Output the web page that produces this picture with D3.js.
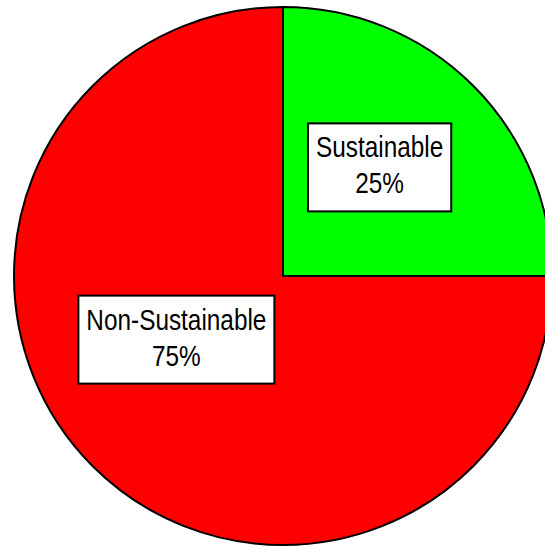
<!DOCTYPE html>
<html><head><meta charset="utf-8">
<script src="https://cdn.jsdelivr.net/npm/d3@7"></script>
<style>html,body{margin:0;padding:0;background:#fff;}svg{display:block;}</style>
</head><body>
<svg id="chart" width="545" height="547"></svg>
<script>
const categories = ["Sustainable", "Non-Sustainable"];
const values = [25, 75];
const percentLabels = ["25%", "75%"];
const colors = ["#00FF00", "#FF0000"];
// label nudges relative to arc centroid (px)
const labelNudge = [[-8, -4], [-2, -41]];

const svg = d3.select("#chart");
const cx = 283, cy = 276, r = 269;
const g = svg.append("g").attr("transform", `translate(${cx},${cy})`);

const pie = d3.pie().sort(null).value(d => d.v);
const data = pie(categories.map((c, i) => ({c, v: values[i], p: percentLabels[i], col: colors[i]})));
const arc = d3.arc().innerRadius(0).outerRadius(r);
const labelArc = d3.arc().innerRadius(r * 0.55).outerRadius(r * 0.55);

g.selectAll("path.slice").data(data).join("path")
  .attr("class", "slice")
  .attr("d", arc)
  .attr("fill", d => d.data.col)
  .attr("stroke", "#000")
  .attr("stroke-width", 2)
  .attr("stroke-linejoin", "miter");

const fontFam = "'Liberation Sans', Arial, sans-serif";
const narrow = 0.84;
data.forEach((d, i) => {
  const [x, y] = labelArc.centroid(d);
  const lx = x + labelNudge[i][0], ly = y + labelNudge[i][1];
  const lg = g.append("g").attr("transform", `translate(${lx},${ly})`);
  const rect = lg.append("rect").attr("fill", "#fff").attr("stroke", "#000").attr("stroke-width", 2);
  const t = lg.append("text").attr("text-anchor", "middle")
    .attr("transform", `scale(${narrow},1)`)
    .attr("font-family", fontFam).attr("font-size", 29).attr("fill", "#000");
  t.append("tspan").attr("x", 0).attr("y", -10).text(d.data.c);
  t.append("tspan").attr("x", 0).attr("y", 26).text(d.data.p);
  const bb = t.node().getBBox();
  const padX = 8;
  const w = bb.width * narrow + 2 * padX;
  rect.attr("x", -w / 2).attr("y", -44).attr("width", w).attr("height", 88);
});
</script>
</body></html>
